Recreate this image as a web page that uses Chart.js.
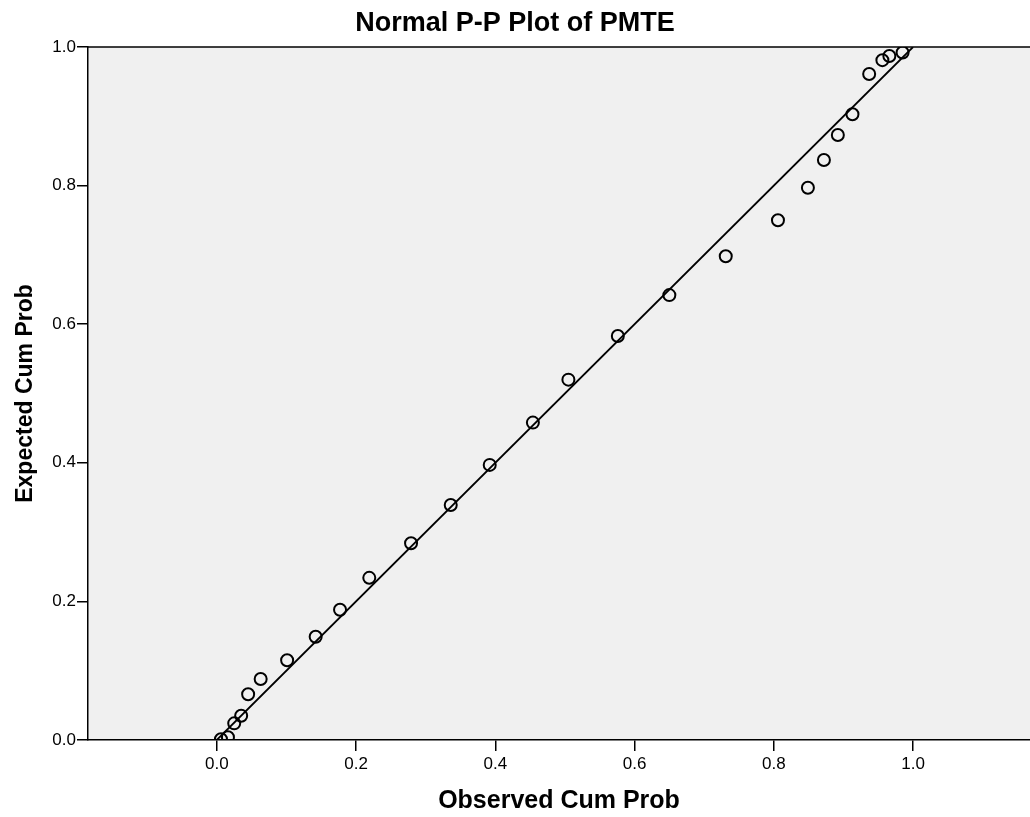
<!DOCTYPE html>
<html>
<head>
<meta charset="utf-8">
<script src="https://cdn.jsdelivr.net/npm/chart.js@4"></script>
<style>
  html, body { margin: 0; padding: 0; background: #fff; }
  #wrap { width: 1030px; height: 817px; }
</style>
</head>
<body>
<div id="wrap"><canvas id="pp"></canvas></div>
<script>
// observed cumulative probability (x) and expected cumulative probability (y)
const observedCum = [0.006, 0.016, 0.025, 0.035, 0.045, 0.063, 0.101, 0.142, 0.177, 0.219,
    0.279, 0.336, 0.392, 0.454, 0.505, 0.576, 0.650, 0.731, 0.806, 0.849,
    0.872, 0.892, 0.913, 0.937, 0.956, 0.966, 0.985];
const expectedCum = [0.001, 0.004, 0.024, 0.035, 0.066, 0.088, 0.115, 0.149, 0.188, 0.234,
    0.284, 0.339, 0.397, 0.458, 0.520, 0.583, 0.642, 0.698, 0.750, 0.797,
    0.837, 0.873, 0.903, 0.961, 0.981, 0.987, 0.992];
const refLine = [0, 1];
const tickValues = [0, 0.2, 0.4, 0.6, 0.8, 1.0];

const FONT = "'Liberation Sans', Arial, sans-serif";

const points = observedCum.map((x, i) => ({ x: x, y: expectedCum[i] }));
const diag = refLine.map(v => ({ x: v, y: v }));

const plotFrame = {
    id: 'plotFrame',
    beforeDraw(chart) {
        const { ctx, chartArea: a } = chart;
        ctx.save();
        ctx.fillStyle = '#f0f0f0';
        ctx.fillRect(a.left, a.top, a.right - a.left, a.bottom - a.top);
        ctx.restore();
    },
    afterDraw(chart) {
        const { ctx, chartArea: a } = chart;
        ctx.save();
        ctx.strokeStyle = '#000';
        ctx.lineWidth = 1.5;
        ctx.beginPath();
        ctx.moveTo(a.left, a.top);
        ctx.lineTo(a.right, a.top);
        ctx.stroke();
        ctx.restore();
    }
};

new Chart(document.getElementById('pp'), {
    type: 'scatter',
    data: {
        datasets: [
            {
                type: 'line',
                data: diag,
                borderColor: '#000',
                borderWidth: 1.8,
                pointRadius: 0,
                fill: false
            },
            {
                data: points,
                pointStyle: 'circle',
                pointRadius: 6,
                pointBorderWidth: 2,
                pointBorderColor: '#000',
                pointBackgroundColor: 'rgba(0,0,0,0)'
            }
        ]
    },
    options: {
        responsive: true,
        maintainAspectRatio: false,
        animation: false,
        layout: { padding: 0, autoPadding: false },
        plugins: {
            legend: { display: false },
            tooltip: { enabled: false },
            title: {
                display: true,
                text: 'Normal P-P Plot of PMTE',
                color: '#000',
                font: { family: FONT, size: 27, weight: 'bold' },
                padding: { top: 7, bottom: 7.6 }
            }
        },
        scales: {
            x: {
                type: 'linear',
                min: -0.185,
                max: 1.168,
                afterBuildTicks: s => { s.ticks = tickValues.map(v => ({ value: v })); },
                afterFit: s => { s.height = 77; s.paddingLeft = 0; s.paddingRight = 0; },
                grid: { drawOnChartArea: false, drawTicks: true, tickLength: 11, color: '#000', lineWidth: 1.5 },
                border: { display: true, color: '#000', width: 1.5 },
                ticks: {
                    color: '#000',
                    padding: 3,
                    font: { family: FONT, size: 17 },
                    callback: v => v.toFixed(1)
                },
                title: {
                    display: true,
                    text: 'Observed Cum Prob',
                    color: '#000',
                    font: { family: FONT, size: 25, weight: 'bold' },
                    padding: { top: 0, bottom: 1 }
                }
            },
            y: {
                type: 'linear',
                min: 0,
                max: 1,
                afterBuildTicks: s => { s.ticks = tickValues.map(v => ({ value: v })); },
                afterFit: s => { s.width = 88; },
                grid: { drawOnChartArea: false, drawTicks: true, tickLength: 11, color: '#000', lineWidth: 1.5 },
                border: { display: true, color: '#000', width: 1.5 },
                ticks: {
                    color: '#000',
                    padding: 1,
                    font: { family: FONT, size: 17 },
                    callback: v => v.toFixed(1)
                },
                title: {
                    display: true,
                    text: 'Expected Cum Prob',
                    color: '#000',
                    font: { family: FONT, size: 23, weight: 'bold' },
                    padding: { top: 12, bottom: 0 }
                }
            }
        }
    },
    plugins: [plotFrame]
});
</script>
</body>
</html>
